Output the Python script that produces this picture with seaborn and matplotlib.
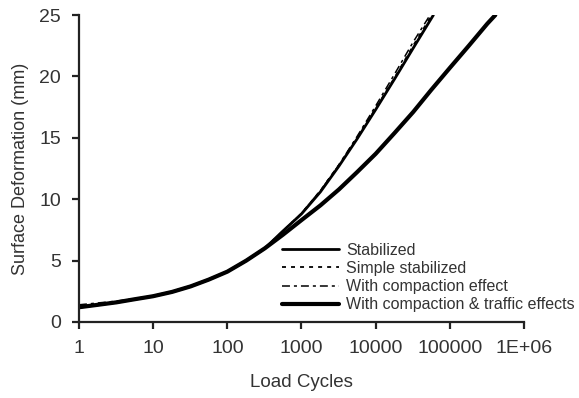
import numpy as np
import pandas as pd
import matplotlib
matplotlib.use("Agg")
import matplotlib.pyplot as plt
import seaborn as sns

# Load cycles and surface deformation (mm) for each model
cycles_stab = [1, 1.8, 3.2, 5.6, 10, 18, 32, 56, 100, 180, 320, 560, 1000,
               1800, 3200, 5600, 10000, 18000, 32000, 60000]
def_stab = [1.2, 1.4, 1.6, 1.85, 2.1, 2.45, 2.9, 3.45, 4.1, 5.0, 6.0, 7.4, 8.8,
            10.6, 12.7, 14.9, 17.3, 19.8, 22.3, 25.0]

cycles_simple = [1, 1.8, 3.2, 5.6, 10, 18, 32, 56, 100, 180, 320, 560, 1000,
                 1800, 3200, 5600, 10000, 18000, 32000, 57000]
def_simple = [1.2, 1.4, 1.6, 1.85, 2.1, 2.45, 2.9, 3.45, 4.1, 5.0, 6.0, 7.4, 8.85,
              10.7, 12.8, 15.0, 17.4, 19.9, 22.5, 25.0]

cycles_comp = [1, 1.8, 3.2, 5.6, 10, 18, 32, 56, 100, 180, 320, 560, 1000,
               1800, 3200, 5600, 10000, 18000, 32000, 54000]
def_comp = [1.4, 1.55, 1.7, 1.9, 2.15, 2.5, 2.95, 3.5, 4.1, 5.0, 6.0, 7.4, 8.85,
            10.7, 12.8, 15.1, 17.6, 20.2, 22.8, 25.0]

cycles_traffic = [1, 1.8, 3.2, 5.6, 10, 18, 32, 56, 100, 180, 320, 560, 1000,
                  1800, 3200, 5600, 10000, 18000, 32000, 56000, 100000, 180000,
                  320000, 410000]
def_traffic = [1.2, 1.4, 1.6, 1.85, 2.1, 2.45, 2.9, 3.45, 4.1, 5.0, 6.0, 7.1, 8.3,
               9.5, 10.8, 12.2, 13.7, 15.4, 17.1, 18.9, 20.7, 22.5, 24.3, 25.0]

labels = ["Stabilized", "Simple stabilized", "With compaction effect",
          "With compaction & traffic effects"]
x_ticks = [1, 10, 100, 1000, 10000, 100000, 1000000]
x_tick_labels = ["1", "10", "100", "1000", "10000", "100000", "1E+06"]
y_ticks = [0, 5, 10, 15, 20, 25]

sns.set_style("ticks")
plt.rcParams["font.family"] = ["Liberation Sans", "DejaVu Sans"]
text_color = "#333333"

fig = plt.figure(figsize=(5.79, 3.98), dpi=100)
ax = fig.add_axes([0.1364, 0.191, 0.7686, 0.771])

series = [
    (cycles_stab, def_stab, dict(lw=2.0, ls="-")),
    (cycles_simple, def_simple, dict(lw=1.3, ls=(0, (2.2, 2.8)))),
    (cycles_comp, def_comp, dict(lw=1.1, ls=(0, (5.2, 2.6, 2.0, 2.6)))),
    (cycles_traffic, def_traffic, dict(lw=3.0, ls="-")),
]
for (xs, ys, style), lab in zip(series, labels):
    sns.lineplot(x=xs, y=ys, ax=ax, color="black", label=lab,
                 estimator=None, sort=False, **style)

ax.set_xscale("log")
ax.set_xlim(1, 1e6)
ax.set_ylim(0, 25)
ax.set_xticks(x_ticks)
ax.set_xticklabels(x_tick_labels)
ax.minorticks_off()
ax.set_yticks(y_ticks)

sns.despine(ax=ax)
for side in ("left", "bottom"):
    ax.spines[side].set_linewidth(1.6)
    ax.spines[side].set_color("#222222")
ax.tick_params(axis="both", length=5, width=1.6, color="#222222",
               labelsize=14, labelcolor=text_color, pad=8)

ax.set_xlabel("Load Cycles", fontsize=13.5, color=text_color, labelpad=12)
ax.set_ylabel("Surface Deformation (mm)", fontsize=13, color=text_color, labelpad=7)

leg = ax.legend(loc="upper left", bbox_to_anchor=(0.456, 0.258), frameon=False,
                fontsize=11.5, handlelength=3.6, handletextpad=0.44,
                labelspacing=0.2, borderaxespad=0, borderpad=0)
for t in leg.get_texts():
    t.set_color(text_color)

fig.savefig("out.png", dpi=100)
